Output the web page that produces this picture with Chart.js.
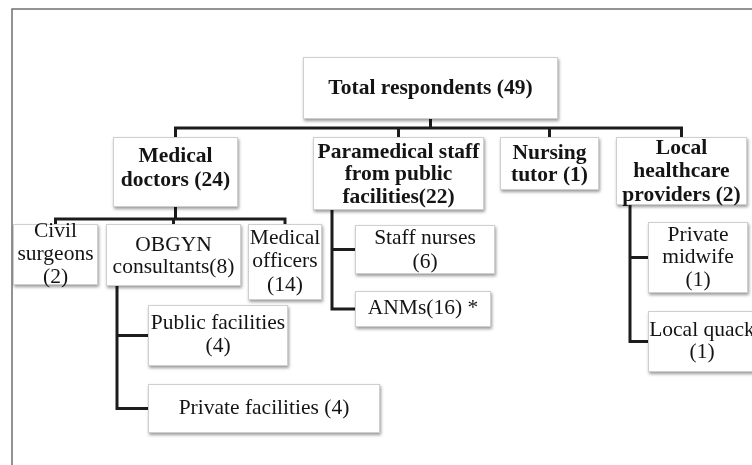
<!DOCTYPE html>
<html>
<head>
<meta charset="utf-8">
<script src="https://cdn.jsdelivr.net/npm/chart.js@4/dist/chart.umd.min.js"></script>
<style>
  body { margin: 0; background: #fff; }
  #wrap { width: 752px; height: 465px; }
</style>
</head>
<body>
<div id="wrap"><canvas id="tree" width="752" height="465"></canvas></div>
<script>
// org chart content
const nodeNames = [
  "Total respondents (49)",
  "Medical\ndoctors (24)",
  "Paramedical staff\nfrom public\nfacilities(22)",
  "Nursing\ntutor (1)",
  "Local\nhealthcare\nproviders (2)",
  "Civil\nsurgeons\n(2)",
  "OBGYN\nconsultants(8)",
  "Medical\nofficers\n(14)",
  "Public facilities\n(4)",
  "Private facilities (4)",
  "Staff nurses\n(6)",
  "ANMs(16) *",
  "Private\nmidwife\n(1)",
  "Local quack\n(1)",
];
const nodeParents = [-1, 0, 0, 0, 0, 1, 1, 1, 6, 6, 2, 2, 4, 4];
const boldNodes = [0, 1, 2, 3, 4];

// layout, in the 752 x 465 units of the axes
const boxLeft = [303, 113, 313, 500, 616, 13, 106, 248, 148, 148, 355, 355, 648, 648];
const boxTop = [57, 137, 137, 137, 137, 224, 224, 224, 305, 384, 225, 291, 222, 311];
const boxRight = [558, 238, 484, 599, 747, 98, 241, 322, 288, 380, 495, 491, 748, 756];
const boxBottom = [119, 207, 210, 190, 205, 285, 286, 300, 366, 433, 274, 327, 293, 372];
const firstLineY = [88, 156, 152, 153, 148, 231, 245, 238, 323, 408, 238, 308, 235, 330];
const lineGaps = [0, 24, 22.5, 22, 23.5, 23, 22, 23.5, 23, 0, 24, 0, 22.5, 22];

// how each parent links to its children: a bus under it, or a line down its side
const linkParents = [0, 1, 2, 4, 6];
const linkKinds = ["bus", "bus", "side", "side", "side"];
const linkPos = [128, 219, 332, 630, 117]; // bus y, or side x

const treePlugin = {
  id: "treePlugin",
  afterDraw(chart) {
    const { ctx } = chart;
    const xs = chart.scales.x;
    const ys = chart.scales.y;
    const px = (v) => xs.getPixelForValue(v);
    const py = (v) => ys.getPixelForValue(v);
    const cx = (i) => (boxLeft[i] + boxRight[i]) / 2;
    const cy = (i) => (boxTop[i] + boxBottom[i]) / 2;

    ctx.save();

    // outer frame
    ctx.strokeStyle = "#707070";
    ctx.lineWidth = 1.5;
    ctx.beginPath();
    ctx.moveTo(px(12), py(465));
    ctx.lineTo(px(12), py(9));
    ctx.lineTo(px(752), py(9));
    ctx.stroke();

    // connectors
    ctx.strokeStyle = "#1c1c1c";
    ctx.lineWidth = 3;
    ctx.lineCap = "square";
    linkParents.forEach((p, k) => {
      const kids = nodeParents
        .map((par, i) => (par === p ? i : -1))
        .filter((i) => i >= 0);
      ctx.beginPath();
      if (linkKinds[k] === "bus") {
        const by = linkPos[k];
        ctx.moveTo(px(cx(p)), py(boxBottom[p]));
        ctx.lineTo(px(cx(p)), py(by));
        const dropXs = kids.map(cx);
        ctx.moveTo(px(Math.min(...dropXs)), py(by));
        ctx.lineTo(px(Math.max(...dropXs)), py(by));
        kids.forEach((c) => {
          ctx.moveTo(px(cx(c)), py(by));
          ctx.lineTo(px(cx(c)), py(boxTop[c]));
        });
      } else {
        const sx = linkPos[k];
        const lastY = Math.max(...kids.map(cy));
        ctx.moveTo(px(sx), py(boxBottom[p]));
        ctx.lineTo(px(sx), py(lastY));
        kids.forEach((c) => {
          ctx.moveTo(px(sx), py(cy(c)));
          ctx.lineTo(px(boxLeft[c]), py(cy(c)));
        });
      }
      ctx.stroke();
    });

    // boxes
    nodeNames.forEach((name, i) => {
      const x0 = px(boxLeft[i]);
      const y0 = py(boxTop[i]);
      const w = px(boxRight[i]) - x0;
      const h = py(boxBottom[i]) - y0;
      ctx.save();
      ctx.shadowColor = "rgba(0,0,0,0.4)";
      ctx.shadowBlur = 3;
      ctx.shadowOffsetX = 1;
      ctx.shadowOffsetY = 2;
      ctx.fillStyle = "#ffffff";
      ctx.fillRect(x0, y0, w, h);
      ctx.restore();
      ctx.strokeStyle = "#cfcfcf";
      ctx.lineWidth = 1;
      ctx.strokeRect(x0 + 0.5, y0 + 0.5, w - 1, h - 1);
    });

    // labels
    ctx.fillStyle = "#141414";
    ctx.textAlign = "center";
    ctx.textBaseline = "middle";
    nodeNames.forEach((name, i) => {
      const bold = boldNodes.includes(i);
      ctx.font = (bold ? "bold " : "") + '21.5px "Liberation Serif"';
      name.split("\n").forEach((line, j) => {
        ctx.fillText(line, px(cx(i)), py(firstLineY[i] + j * lineGaps[i]));
      });
    });

    ctx.restore();
  },
};

new Chart(document.getElementById("tree"), {
  type: "scatter",
  data: {
    datasets: [
      {
        data: nodeNames.map((n, i) => ({ x: (boxLeft[i] + boxRight[i]) / 2, y: (boxTop[i] + boxBottom[i]) / 2 })),
        pointRadius: 0,
      },
    ],
  },
  options: {
    responsive: false,
    animation: false,
    layout: { padding: 0 },
    plugins: { legend: { display: false }, tooltip: { enabled: false } },
    scales: {
      x: { type: "linear", min: 0, max: 752, display: false },
      y: { type: "linear", min: 0, max: 465, reverse: true, display: false },
    },
  },
  plugins: [treePlugin],
});
</script>
</body>
</html>
